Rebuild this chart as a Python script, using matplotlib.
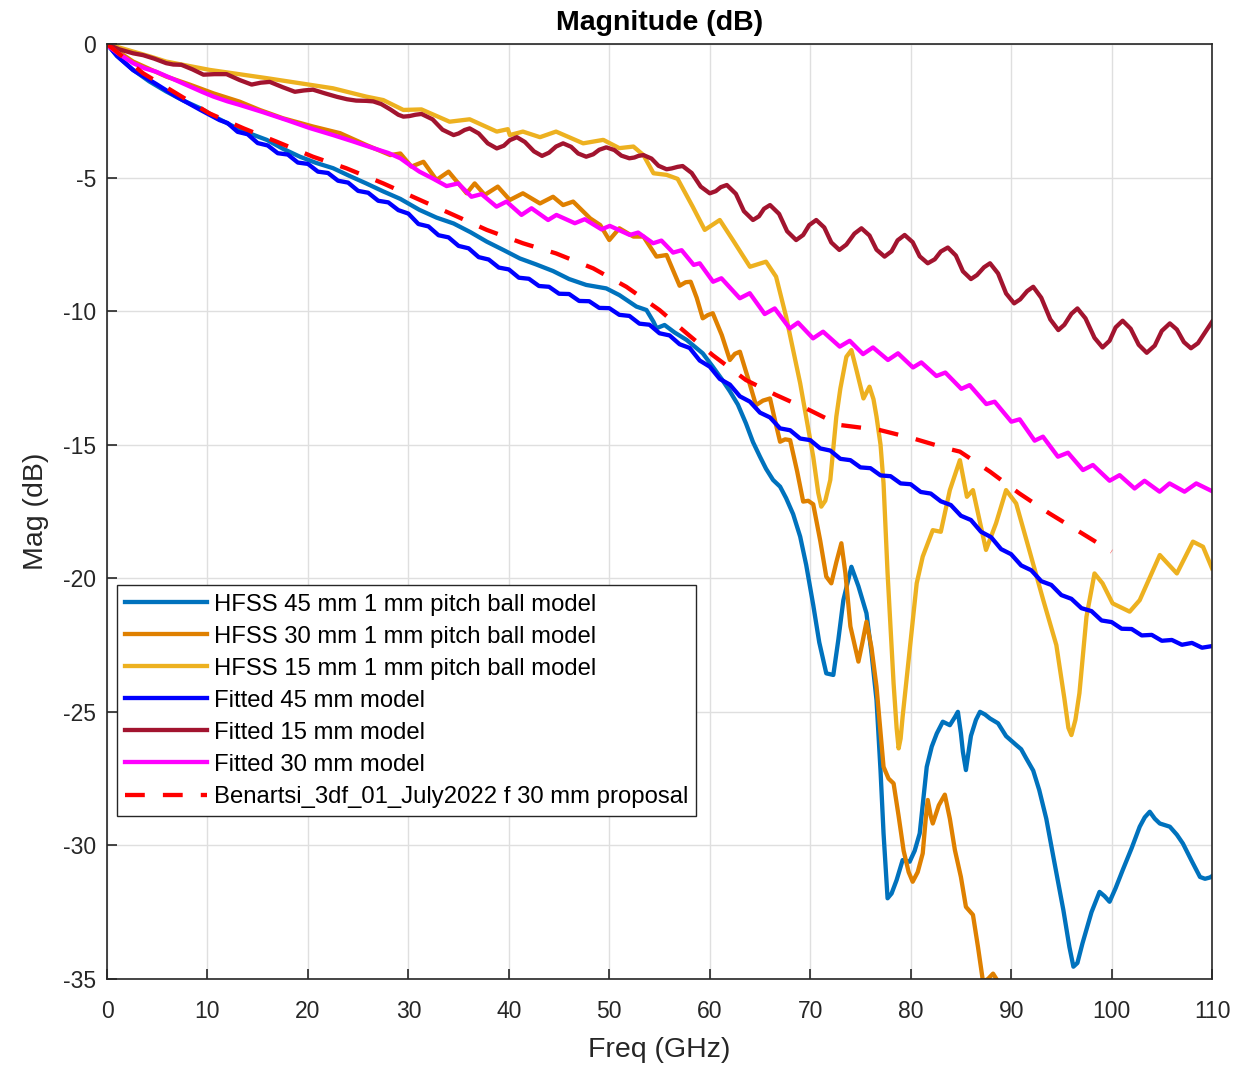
import matplotlib
matplotlib.use("Agg")
import matplotlib.pyplot as plt
import numpy as np

plt.rcParams['font.family'] = ['Liberation Sans', 'DejaVu Sans']
plt.rcParams['axes.unicode_minus'] = False

# HFSS 45 mm 1 mm pitch ball model
f_h45 = [0, 1.0, 2.6, 4.2, 5.9, 7.6, 9.3, 11.0, 12.6, 14.2, 15.9, 17.5, 19.2, 20.8, 22.5,
         24.2, 25.8, 27.5, 29.2, 31.1, 32.8, 34.5, 36.2, 37.8, 39.5, 41.1, 42.7, 44.4, 46.0,
         47.7, 49.7, 51.0, 52.7, 53.7, 54.4, 54.7, 55.5, 56.5, 57.7, 59.3, 60.3, 61.2, 62.0,
         62.8, 63.6, 64.3, 65.0, 65.6, 66.3, 67.0, 67.6, 68.3, 69.0, 69.6, 70.3, 70.9, 71.6,
         72.3, 72.8, 73.3, 74.1, 74.8, 75.6, 76.1, 76.6, 77.0, 77.3, 77.7, 78.1, 78.6, 79.2,
         79.9, 80.4, 80.9, 81.6, 82.1, 82.6, 83.2, 83.9, 84.4, 84.7, 85.0, 85.2, 85.5, 85.8,
         86.0, 86.5, 86.9, 87.4, 87.9, 88.7, 89.5, 90.5, 91.0, 91.5, 92.2, 92.8, 93.5, 94.2,
         95.2, 95.8, 96.2, 96.6, 97.1, 98.0, 98.8, 99.3, 99.8, 100.4, 101.1, 102.0, 102.8,
         103.3, 103.8, 104.3, 104.8, 105.8, 106.5, 107.1, 108.0, 108.8, 109.3, 109.8, 110]
m_h45 = [0, -0.45, -0.97, -1.4, -1.78, -2.12, -2.41, -2.78, -3.09, -3.35, -3.59, -3.92, -4.22,
         -4.45, -4.65, -4.95, -5.22, -5.52, -5.80, -6.21, -6.5, -6.72, -7.05, -7.40, -7.72,
         -8.03, -8.25, -8.50, -8.80, -9.02, -9.15, -9.40, -9.83, -9.96, -10.4, -10.64, -10.52,
         -10.8, -11.08, -11.58, -12.08, -12.55, -13.0, -13.5, -14.20, -14.9, -15.45, -15.9,
         -16.32, -16.57, -17.0, -17.60, -18.44, -19.5, -21.0, -22.4, -23.56, -23.62, -22.3,
         -20.82, -19.57, -20.3, -21.31, -22.8, -24.56, -27.2, -29.55, -31.98, -31.8, -31.30,
         -30.55, -30.61, -30.2, -29.55, -27.06, -26.3, -25.81, -25.37, -25.50, -25.2, -25.0,
         -25.8, -26.5, -27.18, -26.4, -25.9, -25.3, -25.0, -25.1, -25.25, -25.43, -25.91,
         -26.24, -26.4, -26.74, -27.2, -27.93, -29.0, -30.42, -32.42, -33.8, -34.54, -34.4,
         -33.67, -32.5, -31.74, -31.9, -32.11, -31.6, -30.93, -30.1, -29.30, -28.95, -28.74,
         -29.0, -29.18, -29.30, -29.6, -29.93, -30.6, -31.18, -31.25, -31.20, -31.15]

# HFSS 30 mm 1 mm pitch ball model
f_h30 = [0, 2.6, 5.9, 8.3, 10.6, 13.2, 15.2, 17.5, 20.5, 23.2, 25.8, 28.2, 29.2, 30.3, 31.5,
         32.8, 34.0, 35.8, 36.6, 37.6, 38.9, 40.1, 41.4, 43.1, 44.4, 45.4, 46.4, 48.1, 49.1,
         50.0, 51.0, 52.4, 53.4, 54.7, 55.7, 57.0, 57.6, 58.1, 58.7, 59.3, 59.8, 60.3, 61.2,
         62.0, 62.5, 63.0, 63.8, 64.6, 65.3, 66.0, 66.5, 67.0, 67.5, 68.0, 68.7, 69.3, 69.8,
         70.3, 71.0, 71.6, 72.1, 72.6, 73.1, 73.5, 74.0, 74.8, 75.2, 75.6, 76.1, 76.6, 77.3,
         77.8, 78.3, 78.8, 79.3, 79.8, 80.2, 80.7, 81.2, 81.5, 81.7, 82.0, 82.2, 82.8, 83.4,
         83.9, 84.4, 85.0, 85.5, 86.2, 86.7, 87.2, 87.7, 88.2, 88.7, 89.5]
m_h30 = [0, -0.66, -1.22, -1.53, -1.85, -2.16, -2.47, -2.78, -3.09, -3.34, -3.78, -4.16, -4.1,
         -4.59, -4.41, -5.09, -4.78, -5.59, -5.22, -5.65, -5.34, -5.84, -5.59, -5.97, -5.72,
         -6.03, -5.90, -6.53, -6.78, -7.34, -6.90, -7.21, -7.21, -7.96, -7.90, -9.05, -8.92,
         -8.90, -9.5, -10.27, -10.15, -10.08, -10.9, -11.83, -11.6, -11.52, -12.5, -13.52,
         -13.35, -13.27, -14.1, -14.89, -14.8, -14.83, -16.0, -17.13, -17.1, -17.23, -18.6,
         -19.94, -20.19, -19.4, -18.69, -19.8, -21.8, -23.12, -22.4, -21.63, -22.6, -24.06,
         -27.06, -27.5, -27.68, -28.9, -30.2, -31.0, -31.36, -31.0, -30.30, -29.0, -28.30,
         -28.9, -29.18, -28.5, -28.1, -29.0, -30.17, -31.18, -32.30, -32.6, -33.8, -35.1,
         -35.0, -34.8, -35.1, -36.5]

# HFSS 15 mm 1 mm pitch ball model
f_h15 = [0, 4.3, 5.9, 10.2, 15.9, 19.2, 22.5, 25.8, 27.5, 29.5, 31.3, 34.1, 36.1, 38.8, 39.9,
         40.1, 41.4, 43.1, 44.7, 47.4, 49.4, 51.0, 52.4, 53.4, 54.4, 55.7, 56.8, 58.3, 59.5,
         61.0, 62.3, 64.0, 65.6, 66.6, 67.6, 69.0, 70.3, 70.8, 71.1, 71.5, 72.0, 72.6, 73.0,
         73.6, 74.1, 74.6, 75.3, 75.9, 76.3, 76.6, 77.0, 77.3, 77.7, 78.3, 78.6, 78.8, 79.0,
         79.2, 79.9, 80.6, 81.2, 82.2, 83.0, 83.9, 84.9, 85.6, 86.2, 87.5, 88.5, 89.5, 90.5,
         91.9, 93.2, 94.5, 95.3, 95.7, 96.0, 96.4, 96.8, 97.5, 98.3, 99.1, 100.1, 101.8,
         102.8, 104.8, 106.5, 108.1, 109.1, 110]
m_h15 = [0, -0.47, -0.66, -0.97, -1.28, -1.47, -1.66, -1.97, -2.10, -2.47, -2.45, -2.91, -2.82,
         -3.28, -3.19, -3.41, -3.28, -3.49, -3.28, -3.72, -3.59, -3.90, -3.84, -4.16, -4.84,
         -4.90, -5.05, -6.09, -6.96, -6.59, -7.34, -8.34, -8.15, -8.71, -10.21, -12.70,
         -15.45, -16.8, -17.32, -17.1, -16.32, -13.95, -12.9, -11.71, -11.46, -12.2, -13.27,
         -12.83, -13.3, -13.95, -15.0, -16.45, -19.8, -23.94, -25.6, -26.37, -26.0, -25.18,
         -22.69, -20.19, -19.19, -18.2, -18.26, -16.70, -15.58, -16.95, -16.70, -18.94,
         -17.94, -16.70, -17.20, -19.07, -20.82, -22.5, -24.5, -25.6, -25.87, -25.3, -24.3,
         -21.44, -19.82, -20.19, -20.94, -21.25, -20.82, -19.13, -19.82, -18.63, -18.82,
         -19.63]

# Fitted 45 mm model
f_f45 = [0, 1, 2.6, 4.9, 6.9, 9.3, 11.2, 12, 13, 14, 15, 16, 17, 18, 19, 20, 21, 22, 23, 24,
         25, 26, 27, 28, 29, 30, 31, 32, 33, 34, 35, 36, 37, 38, 39, 40, 41, 42, 43, 44, 45,
         46, 47, 48, 49, 50, 51, 52, 53, 54, 55, 56, 57, 58, 59, 60, 61, 62, 63, 64, 65, 66,
         67, 68, 69, 70, 71, 72, 73, 74, 75, 76, 77, 78, 79, 80, 81, 82, 83, 84, 85, 86, 87,
         88, 89, 90, 91, 92, 93, 94, 95, 96, 97, 98, 99, 100, 101, 102, 103, 104, 105, 106,
         107, 108, 109, 110]
m_f45 = [0, -0.45, -0.98, -1.5, -1.97, -2.47, -2.85, -2.96, -3.29, -3.38, -3.71, -3.80, -4.09,
         -4.14, -4.44, -4.49, -4.78, -4.83, -5.12, -5.19, -5.50, -5.57, -5.87, -5.93, -6.22,
         -6.35, -6.74, -6.83, -7.16, -7.24, -7.56, -7.65, -7.98, -8.07, -8.37, -8.44, -8.75,
         -8.79, -9.06, -9.09, -9.35, -9.36, -9.62, -9.63, -9.88, -9.89, -10.14, -10.18,
         -10.47, -10.51, -10.83, -10.91, -11.24, -11.38, -11.85, -12.08, -12.54, -12.75,
         -13.19, -13.39, -13.80, -13.98, -14.39, -14.46, -14.77, -14.83, -15.14, -15.22,
         -15.53, -15.58, -15.85, -15.88, -16.15, -16.18, -16.45, -16.48, -16.77, -16.83,
         -17.12, -17.26, -17.66, -17.82, -18.26, -18.46, -18.91, -19.10, -19.52, -19.70,
         -20.11, -20.25, -20.63, -20.77, -21.12, -21.23, -21.58, -21.64, -21.89, -21.90,
         -22.14, -22.12, -22.34, -22.31, -22.49, -22.42, -22.60, -22.54]

# Fitted 15 mm model
f_f15 = [0, 1.2, 2.6, 3.6, 4.7, 5.9, 6.6, 7.4, 8.5, 9.6, 10.7, 11.9, 13.2, 14.4, 15.3, 16.2,
         17.5, 18.7, 19.6, 20.5, 21.7, 22.9, 23.9, 24.8, 25.8, 26.5, 27.3, 28.2, 29.0, 29.5,
         30.1, 30.7, 31.3, 32.4, 33.4, 34.5, 35.0, 35.6, 36.1, 37.0, 37.9, 38.8, 39.5, 40.1,
         40.8, 41.6, 42.5, 43.3, 44.0, 44.7, 45.4, 46.2, 46.9, 47.7, 48.4, 49.0, 49.7, 50.5,
         51.2, 52.0, 52.5, 52.9, 53.4, 54.2, 54.9, 55.7, 56.2, 56.8, 57.3, 58.2, 59.1, 60.0,
         60.6, 61.1, 61.7, 62.6, 63.4, 64.3, 64.9, 65.4, 66.0, 66.9, 67.7, 68.6, 69.3, 69.9,
         70.6, 71.4, 72.1, 72.9, 73.6, 74.4, 75.1, 75.9, 76.6, 77.4, 78.1, 78.7, 79.4, 80.2,
         80.9, 81.7, 82.4, 83.0, 83.7, 84.5, 85.2, 86.0, 86.6, 87.3, 87.9, 88.7, 89.5, 90.3,
         90.9, 91.6, 92.2, 93.0, 93.9, 94.7, 95.3, 96.0, 96.6, 97.4, 98.3, 99.1, 99.8, 100.4,
         101.1, 101.9, 102.7, 103.5, 104.3, 105.0, 105.8, 106.5, 107.2, 107.9, 108.6, 109.3,
         110]
m_f15 = [0, -0.2, -0.35, -0.42, -0.55, -0.72, -0.77, -0.78, -0.95, -1.15, -1.13, -1.13, -1.35,
         -1.52, -1.45, -1.42, -1.62, -1.79, -1.74, -1.71, -1.85, -1.98, -2.07, -2.12, -2.13,
         -2.15, -2.25, -2.45, -2.65, -2.72, -2.70, -2.65, -2.62, -2.82, -3.21, -3.41, -3.35,
         -3.22, -3.16, -3.35, -3.72, -3.91, -3.81, -3.60, -3.49, -3.67, -4.02, -4.19, -4.07,
         -3.84, -3.72, -3.85, -4.10, -4.22, -4.13, -3.96, -3.87, -3.97, -4.18, -4.28, -4.25,
         -4.19, -4.16, -4.29, -4.56, -4.69, -4.66, -4.60, -4.57, -4.83, -5.34, -5.59, -5.51,
         -5.36, -5.28, -5.61, -6.26, -6.59, -6.45, -6.17, -6.03, -6.36, -7.01, -7.34, -7.15,
         -6.78, -6.59, -6.87, -7.43, -7.71, -7.51, -7.10, -6.90, -7.17, -7.70, -7.96, -7.76,
         -7.35, -7.15, -7.42, -7.95, -8.21, -8.06, -7.77, -7.62, -7.92, -8.51, -8.80, -8.65,
         -8.36, -8.21, -8.59, -9.34, -9.71, -9.56, -9.25, -9.09, -9.50, -10.31, -10.71,
         -10.51, -10.10, -9.90, -10.27, -11.0, -11.36, -11.11, -10.61, -10.36, -10.66, -11.26,
         -11.56, -11.29, -10.74, -10.46, -10.69, -11.16, -11.39, -11.2, -10.8, -10.4]

# Fitted 30 mm model
f_f30 = [0, 1.3, 2.6, 3.8, 4.9, 6.5, 8.3, 9.5, 10.6, 12.0, 13.2, 15.5, 17.9, 20.2, 22.5,
         24.5, 26.5, 28.0, 29.2, 30.2, 31.1, 32.5, 33.8, 34.96, 36.28, 37.28, 38.77, 39.77,
         41.26, 42.26, 43.91, 44.74, 46.57, 47.56, 49.22, 50.05, 52.04, 52.87, 54.36, 55.19,
         56.35, 57.2, 58.4, 59.0, 60.33, 61.16, 62.99, 63.98, 65.47, 66.47, 67.96, 68.79,
         70.28, 71.28, 72.94, 73.93, 75.26, 76.25, 77.74, 78.74, 80.23, 81.06, 82.56, 83.45,
         85.04, 85.87, 87.53, 88.36, 90.02, 90.85, 92.34, 93.17, 94.66, 95.66, 97.15, 98.14,
         99.80, 100.8, 102.29, 103.28, 104.78, 105.77, 107.26, 108.43, 110]
m_f30 = [-0.05, -0.4, -0.72, -0.92, -1.04, -1.3, -1.6, -1.8, -1.97, -2.15, -2.28, -2.55, -2.85,
         -3.15, -3.41, -3.65, -3.90, -4.08, -4.28, -4.55, -4.78, -5.05, -5.32, -5.22, -5.72,
         -5.62, -6.09, -5.90, -6.40, -6.15, -6.59, -6.40, -6.71, -6.56, -6.94, -6.81, -7.15,
         -7.06, -7.46, -7.36, -7.81, -7.72, -8.27, -8.21, -8.90, -8.77, -9.52, -9.33, -10.11,
         -9.90, -10.65, -10.43, -11.02, -10.77, -11.33, -11.11, -11.61, -11.36, -11.83,
         -11.58, -12.11, -11.92, -12.43, -12.3, -12.91, -12.77, -13.48, -13.39, -14.14,
         -14.05, -14.85, -14.70, -15.45, -15.30, -15.95, -15.76, -16.35, -16.14, -16.64,
         -16.35, -16.76, -16.45, -16.76, -16.45, -16.74]

# Benartsi_3df_01_July2022 f 30 mm proposal
f_ben = [0, 3.6, 6.9, 10.2, 13.6, 16.9, 20.5, 23.8, 27.5, 30.8, 34.5, 37.8, 41.4, 44.7, 48.4,
         51.7, 55.0, 57.7, 60.3, 63.6, 66.6, 69.9, 72.9, 76.9, 80.2, 83.6, 84.9, 87.9, 90.8,
         93.8, 96.8, 100.0]
m_ben = [0, -1.10, -1.85, -2.60, -3.16, -3.66, -4.22, -4.65, -5.22, -5.78, -6.40, -6.96, -7.46,
         -7.84, -8.40, -9.09, -9.96, -10.83, -11.65, -12.58, -13.14, -13.70, -14.26, -14.45,
         -14.76, -15.14, -15.26, -16.01, -16.82, -17.57, -18.26, -19.0]

fig = plt.figure(figsize=(12.56, 10.67), dpi=100)
ax = fig.add_axes([0.0852, 0.0825, 0.8798, 0.8763])

lw = 3.1
ax.plot(f_h45, m_h45, color='#0072BD', lw=lw, label='HFSS 45 mm 1 mm pitch ball model')
ax.plot(f_h30, m_h30, color='#DF8000', lw=lw, label='HFSS 30 mm 1 mm pitch ball model')
ax.plot(f_h15, m_h15, color='#EDB120', lw=lw, label='HFSS 15 mm 1 mm pitch ball model')
ax.plot(f_f45, m_f45, color='#0000FF', lw=lw, label='Fitted 45 mm model')
ax.plot(f_f15, m_f15, color='#A2142F', lw=lw, label='Fitted 15 mm model')
ax.plot(f_f30, m_f30, color='#FF00FF', lw=lw, label='Fitted 30 mm model')
ax.plot(f_ben, m_ben, color='#FF0000', lw=lw, ls=(0, (4.6, 4.2)),
        label='Benartsi_3df_01_July2022 f 30 mm proposal')

ax.set_xlim(0, 110)
ax.set_ylim(-35, 0)
ax.set_xticks(np.arange(0, 111, 10))
ax.set_yticks(np.arange(-35, 1, 5))
ax.grid(True, color='#DFDFDF', lw=1)
ax.set_axisbelow(True)
for s in ax.spines.values():
    s.set_color('#262626')
    s.set_linewidth(1.2)
ax.tick_params(direction='in', length=7, width=1.2, colors='#262626', labelsize=16.5,
               top=False, right=False)
ax.tick_params(axis='x', pad=15)
ax.tick_params(axis='y', pad=8)

ax.set_title('Magnitude (dB)', fontsize=20.5, fontweight='bold', pad=10)
ax.set_xlabel('Freq (GHz)', fontsize=20.5, color='#262626', labelpad=10)
ax.set_ylabel('Mag (dB)', fontsize=20.5, color='#262626', labelpad=10)

leg = ax.legend(loc='upper left', bbox_to_anchor=(0.009, 0.421), borderaxespad=0,
                fontsize=17.2, handlelength=3.4, handletextpad=0.3, labelspacing=0.42,
                fancybox=False, framealpha=1, edgecolor='#262626', borderpad=0.35)
leg.get_frame().set_linewidth(1.0)

fig.savefig('out.png', dpi=100)
